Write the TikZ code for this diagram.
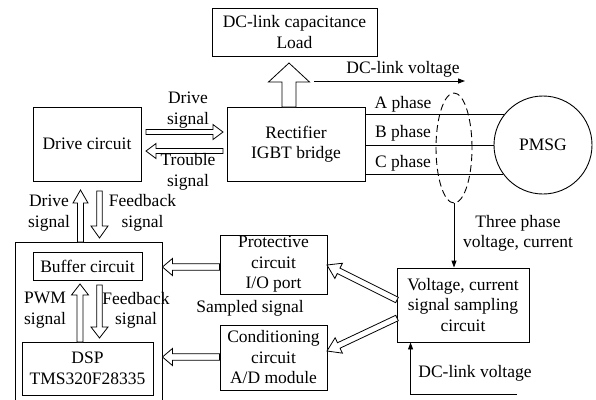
\documentclass[tikz,border=0pt]{standalone}
\usepackage{fontspec}
\setmainfont{Liberation Serif}
\usetikzlibrary{calc,arrows.meta,shapes.geometric}
\begin{document}
\begin{tikzpicture}[x=1pt,y=-1pt,line width=0.9pt,
  box/.style={draw,inner sep=0pt,align=center,font=\fontsize{17.5}{20.5}\selectfont},
  txt/.style={inner sep=0pt,align=center,font=\fontsize{17.5}{20.5}\selectfont},
  thinarr/.style={-{Triangle[length=7pt,width=5pt]}},
  blk/.style n args={3}{draw,fill=white,line width=0.8pt,line join=miter,
    to path={let \p1=(\tikztostart),\p2=(\tikztotarget),
      \n1={atan2(\y2-\y1,\x2-\x1)},\n2={veclen(\x2-\x1,\y2-\y1)} in
      ([shift={(\p1)},rotate=\n1]0pt,#1pt)
      -- ([shift={(\p1)},rotate=\n1]{\n2-#3pt},#1pt)
      -- ([shift={(\p1)},rotate=\n1]{\n2-#3pt},#2pt)
      -- (\p2)
      -- ([shift={(\p1)},rotate=\n1]{\n2-#3pt},-#2pt)
      -- ([shift={(\p1)},rotate=\n1]{\n2-#3pt},-#1pt)
      -- ([shift={(\p1)},rotate=\n1]0pt,-#1pt) -- cycle}}]
\useasboundingbox (0,0) rectangle (596,399);

% boxes
\node[box,minimum width=165pt,minimum height=48pt] (dc) at (294.5,32) {DC-link capacitance\\Load};
\node[box,minimum width=138pt,minimum height=74pt] (rect) at (296,144) {Rectifier\\IGBT bridge};
\node[box,minimum width=108pt,minimum height=74pt] (drv) at (87,144) {Drive circuit};
\node[box,circle,minimum size=98pt] (pmsg) at (543,145) {PMSG};
\node[box,minimum width=147pt,minimum height=165pt] (outer) at (88.5,324.5) {};
\node[box,minimum width=109pt,minimum height=28pt] (buf) at (87.5,266) {Buffer circuit};
\node[box,minimum width=131pt,minimum height=53pt] (dsp) at (87.5,368.5) {DSP\\TMS320F28335};
\node[box,minimum width=107pt,minimum height=59pt] (prot) at (273.5,264.5) {Protective\\circuit\\I/O port};
\node[box,minimum width=107pt,minimum height=65pt] (cond) at (273.5,357.5) {Conditioning\\circuit\\A/D module};
\node[box,minimum width=132pt,minimum height=74pt] (samp) at (463,305) {Voltage, current\\signal sampling\\circuit};
\node[draw,ellipse,inner sep=0pt,minimum width=36pt,minimum height=110pt,dash pattern=on 7pt off 4pt] (ell) at (454,148) {};

% phase lines
\draw (rect.east |- pmsg.142) -- (pmsg.142);
\draw (rect.east |- pmsg.west) -- (pmsg.west);
\draw (rect.east |- pmsg.216) -- (pmsg.216);
\node[txt] (la) at (403,104) {A phase};
\node[txt] (lb) at (403,133) {B phase};
\node[txt] (lc) at (403,163) {C phase};

% DC-link voltage (top)
\coordinate (dcvA) at (314,81);
\coordinate (dcvB) at (465,81);
\draw[thinarr] (dcvA) -- (dcvB);
\node[txt] (dcvlab) at (403,69) {DC-link voltage};

% block arrow up to load
\coordinate (upA) at (289,107);
\coordinate (upB) at (289,63);
\draw[blk={7}{20.5}{19}] (upA) to (upB);

% drive / trouble signal
\coordinate (dsA) at (146,132);
\coordinate (dsB) at (223,132);
\coordinate (tsA) at (223,151);
\coordinate (tsB) at (146,151);
\draw[blk={2.5}{7.5}{10}] (dsA) to (dsB);
\draw[blk={2.5}{7.5}{10}] (tsA) to (tsB);
\node[txt] (dslab) at (188,110) {Drive\\signal};
\node[txt] (tslab) at (188,172) {Trouble\\signal};

% drive circuit <-> outer box
\coordinate (v1A) at (80.5,242);
\coordinate (v1B) at (80.5,190);
\coordinate (v2A) at (99.5,191);
\coordinate (v2B) at (99.5,238);
\draw[blk={3}{7.5}{13}] (v1A) to (v1B);
\draw[blk={2.7}{8.5}{12}] (v2A) to (v2B);
\node[txt] (l1) at (49,213) {Drive\\signal};
\node[txt] (l2) at (142.5,213) {Feedback\\signal};

% buffer <-> dsp
\coordinate (v3A) at (80,342);
\coordinate (v3B) at (80,284);
\coordinate (v4A) at (99.5,285);
\coordinate (v4B) at (99.5,338);
\draw[blk={3}{8.5}{11}] (v3A) to (v3B);
\draw[blk={2.7}{8.5}{11}] (v4A) to (v4B);
\node[txt] (l3) at (45,310) {PWM\\signal};
\node[txt] (l4) at (136,310.5) {Feedback\\signal};

% into outer box
\draw[blk={3.3}{8.5}{10}] (prot.west |- 0,267) to (outer.east |- 0,267);
\draw[blk={3.3}{8.5}{10}] (cond.west |- 0,357) to (outer.east |- 0,357);
\node[txt] (sampled) at (250,308) {Sampled signal};

% diagonal arrows
\coordinate (d1A) at (397,300);
\coordinate (d1B) at (327,265);
\coordinate (d2A) at (397,318);
\coordinate (d2B) at (327,351);
\draw[blk={3}{8.5}{13}] (d1A) to (d1B);
\draw[blk={3}{8.5}{13}] (d2A) to (d2B);

% three phase measurement
\draw[thinarr] (ell.south) -- (ell.south |- samp.north);
\node[txt] (tp) at (518,233.5) {Three phase\\voltage, current};

% DC-link voltage (bottom)
\coordinate (dcvC) at (517,394);
\draw[thinarr] (dcvC) -| ($(samp.south west)+(14,0)$);
\node[txt] (dcvlab2) at (475,373) {DC-link voltage};
\end{tikzpicture}
\end{document}
